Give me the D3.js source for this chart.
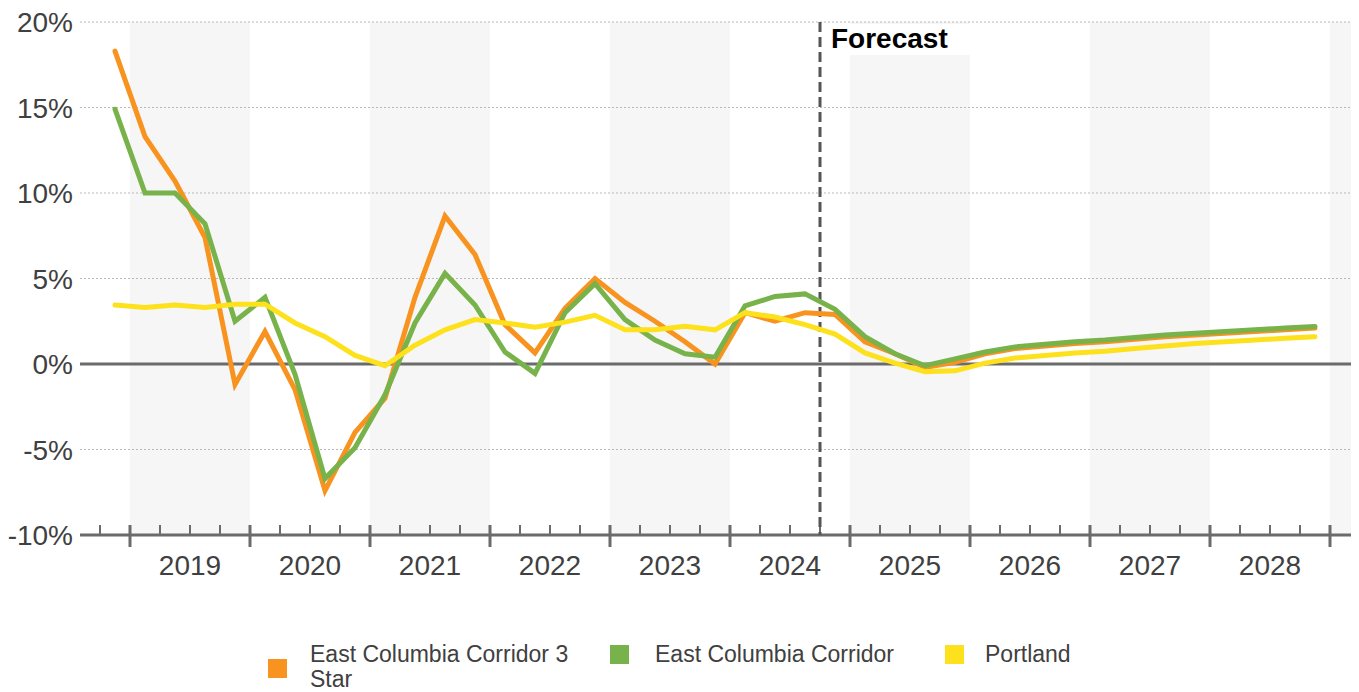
<!DOCTYPE html>
<html>
<head>
<meta charset="utf-8">
<script src="https://cdn.jsdelivr.net/npm/d3@7"></script>
<style>
  body { margin: 0; background: #fff; }
  text { font-family: "Liberation Sans", Arial, sans-serif; }
</style>
</head>
<body>
<div class="chart"></div>
<script>
// quarters, 2018 Q4 .. 2028 Q4 (value = quarter centre as fractional year)
const quarters = d3.range(41).map((i) => 2018.875 + i * 0.25);

const eastColumbia3Star = [
  18.3, 13.3, 10.7, 7.4, -1.2, 1.9, -1.5, -7.4, -4.0, -2.0, 3.9, 8.65, 6.4,
  2.3, 0.65, 3.25, 5.0, 3.6, 2.5, 1.3, 0.0, 3.0, 2.5, 3.0, 2.9, 1.3, 0.6, -0.2,
  0.1, 0.6, 0.9, 1.05, 1.2, 1.3, 1.45, 1.6, 1.7, 1.8, 1.9, 2.0, 2.1,
];

const eastColumbia = [
  14.9, 10.0, 10.0, 8.2, 2.5, 3.9, -0.6, -6.7, -4.9, -1.8, 2.4, 5.3, 3.45,
  0.7, -0.55, 3.0, 4.7, 2.6, 1.4, 0.6, 0.4, 3.4, 3.95, 4.1, 3.2, 1.6, 0.6, -0.1,
  0.3, 0.7, 1.0, 1.15, 1.3, 1.4, 1.55, 1.7, 1.8, 1.9, 2.0, 2.1, 2.2,
];

const portland = [
  3.45, 3.3, 3.45, 3.3, 3.5, 3.5, 2.4, 1.6, 0.5, -0.1, 1.1, 2.0, 2.6, 2.4,
  2.15, 2.45, 2.85, 2.0, 2.0, 2.2, 2.0, 3.0, 2.75, 2.3, 1.75, 0.65, 0.05, -0.45,
  -0.4, 0.05, 0.35, 0.5, 0.65, 0.75, 0.9, 1.05, 1.2, 1.3, 1.4, 1.5, 1.6,
];

const seriesNames = ["East Columbia Corridor 3 Star", "East Columbia Corridor", "Portland"];
const seriesColors = ["#f7931e", "#78b24a", "#fde11c"];
const seriesValues = [eastColumbia3Star, eastColumbia, portland];

const years = d3.range(2019, 2029);
const yTicks = [-10, -5, 0, 5, 10, 15, 20];
const forecastStart = 2024.75;

const width = 1359;
const height = 692;

const svg = d3.select(".chart").append("svg")
  .attr("width", width)
  .attr("height", height);

const x = d3.scaleLinear().domain([2018 + 7 / 12, 2029.175]).range([80, 1351]);
const y = d3.scaleLinear().domain([-10, 20]).range([535, 22]);

// alternate year bands
svg.append("g")
  .selectAll("rect")
  .data(d3.range(2019, 2030, 2))
  .enter()
  .append("rect")
  .attr("x", (d) => x(d))
  .attr("width", (d) => Math.min(x(d + 1), x.range()[1]) - x(d))
  .attr("y", y(20))
  .attr("height", y(-10) - y(20))
  .attr("fill", "#f6f6f6");

// white box behind "Forecast" label
svg.append("rect")
  .attr("x", x(forecastStart) + 2)
  .attr("y", y(20) + 2)
  .attr("width", 156)
  .attr("height", 31)
  .attr("fill", "#fff");

// dotted grid
svg.append("g")
  .selectAll("line")
  .data(yTicks.filter((d) => d !== 0 && d !== -10))
  .enter()
  .append("line")
  .attr("x1", x.range()[0])
  .attr("x2", x.range()[1])
  .attr("y1", (d) => y(d))
  .attr("y2", (d) => y(d))
  .attr("stroke", "#b8b8b8")
  .attr("stroke-width", 1)
  .attr("stroke-dasharray", "2,2");

// zero line
svg.append("line")
  .attr("x1", x.range()[0])
  .attr("x2", x.range()[1])
  .attr("y1", y(0))
  .attr("y2", y(0))
  .attr("stroke", "#6b6b6b")
  .attr("stroke-width", 3);

// y labels
svg.append("g")
  .selectAll("text")
  .data(yTicks)
  .enter()
  .append("text")
  .attr("x", 73)
  .attr("y", (d) => y(d))
  .attr("dy", "0.36em")
  .attr("text-anchor", "end")
  .attr("fill", "#404040")
  .style("font-size", "28px")
  .text((d) => d + "%");

// x axis: minor ticks per quarter, major ticks per year
const axis = svg.append("g").attr("transform", `translate(0, ${y(-10)})`);

axis.append("line")
  .attr("x1", x.range()[0])
  .attr("x2", x.range()[1])
  .attr("stroke", "#6b6b6b")
  .attr("stroke-width", 3);

const tickPos = d3.range(2018.75, 2029.01, 0.25);

axis.selectAll(".tick")
  .data(tickPos)
  .enter()
  .append("line")
  .attr("class", "tick")
  .attr("x1", (d) => x(d))
  .attr("x2", (d) => x(d))
  .attr("y1", -10)
  .attr("y2", (d) => (Math.abs(d - Math.round(d)) < 0.01 ? 12 : 0))
  .attr("stroke", "#6b6b6b")
  .attr("stroke-width", (d) => (Math.abs(d - Math.round(d)) < 0.01 ? 3 : 2));

axis.selectAll(".year")
  .data(years)
  .enter()
  .append("text")
  .attr("class", "year")
  .attr("x", (d) => x(d + 0.5))
  .attr("y", 40)
  .attr("text-anchor", "middle")
  .attr("fill", "#404040")
  .style("font-size", "28px")
  .text((d) => d);

// forecast marker
svg.append("line")
  .attr("x1", x(forecastStart))
  .attr("x2", x(forecastStart))
  .attr("y1", y(20))
  .attr("y2", y(-10))
  .attr("stroke", "#555")
  .attr("stroke-width", 3)
  .attr("stroke-dasharray", "10,5");

svg.append("text")
  .attr("x", x(forecastStart) + 11)
  .attr("y", 48)
  .attr("fill", "#000")
  .style("font-size", "28px")
  .style("font-weight", "bold")
  .text("Forecast");

// series lines
const line = d3.line()
  .x((d, i) => x(quarters[i]))
  .y((d) => y(d));

svg.append("g")
  .selectAll("path")
  .data(seriesValues)
  .enter()
  .append("path")
  .attr("d", (d) => line(d))
  .attr("fill", "none")
  .attr("stroke", (d, i) => seriesColors[i])
  .attr("stroke-width", 5)
  .attr("stroke-linejoin", "miter")
  .attr("stroke-linecap", "round");

// legend
const legendX = [268, 610, 945];
const legend = svg.append("g")
  .selectAll("g")
  .data(seriesNames)
  .enter()
  .append("g")
  .attr("transform", (d, i) => `translate(${legendX[i]}, 0)`);

legend.append("rect")
  .attr("y", (d, i) => (i === 0 ? 659 : 645))
  .attr("width", 19)
  .attr("height", 19)
  .attr("fill", (d, i) => seriesColors[i]);

legend.append("text")
  .attr("x", (d, i) => (i === 0 ? 42 : i === 1 ? 45 : 40))
  .attr("y", 662)
  .attr("fill", "#404040")
  .style("font-size", "23px")
  .each(function (d) {
    const lines = d === "East Columbia Corridor 3 Star" ? ["East Columbia Corridor 3", "Star"] : [d];
    const t = d3.select(this);
    const x0 = t.attr("x");
    lines.forEach((s, k) => {
      t.append("tspan").attr("x", x0).attr("dy", k === 0 ? 0 : 25).text(s);
    });
  });
</script>
</body>
</html>
